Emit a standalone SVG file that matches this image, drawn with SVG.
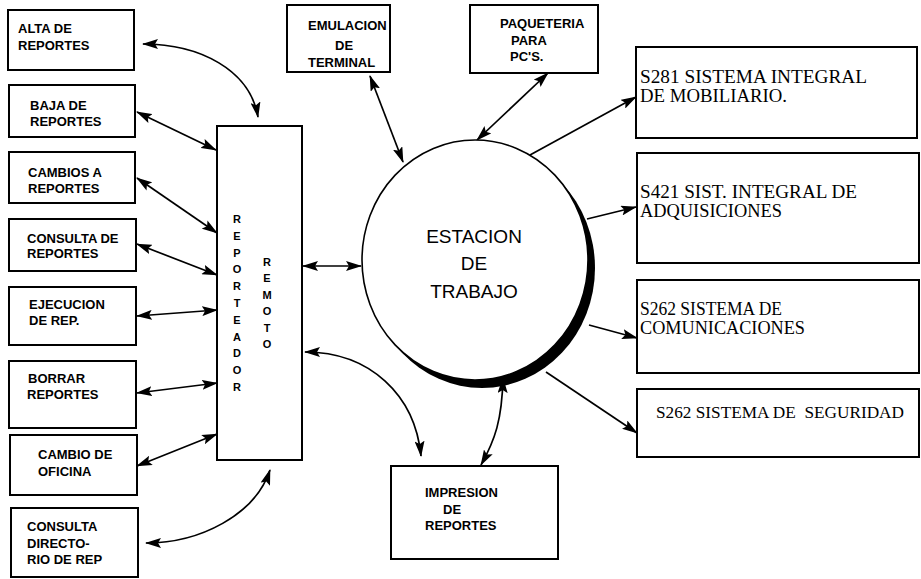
<svg xmlns="http://www.w3.org/2000/svg" width="921" height="579" viewBox="0 0 921 579">
<style>
.box{fill:#fff;stroke:#000;stroke-width:2}
.lbl{font-family:"Liberation Sans",Arial,sans-serif;font-weight:bold;font-size:13px;fill:#000}
.vl{font-family:"Liberation Sans",Arial,sans-serif;font-weight:bold;font-size:11px;fill:#000;text-anchor:middle}
.srf{font-family:"Liberation Serif","Times New Roman",serif;font-size:19px;fill:#000}
.big{font-family:"Liberation Sans",Arial,sans-serif;font-size:19px;fill:#000;text-anchor:middle}
.c2{fill:none;stroke:#000;stroke-width:1.7;marker-start:url(#ah);marker-end:url(#ah)}
.c1{fill:none;stroke:#000;stroke-width:1.7;marker-end:url(#ah)}
</style>
<defs>
<marker id="ah" viewBox="0 0 16 10" refX="15" refY="5" markerWidth="16" markerHeight="10" markerUnits="userSpaceOnUse" orient="auto-start-reverse">
<path d="M0,0 L16,5 L0,10 L3,5 z" fill="#000"/>
</marker>
</defs>
<rect width="921" height="579" fill="#fff"/>

<g id="connectors">
<path class="c2" d="M143,44 C200,44 250,70 258,117"/>
<path class="c2" d="M137,112 L216,150"/>
<path class="c2" d="M137,178 L217,233"/>
<path class="c2" d="M137,244 L217,275"/>
<path class="c2" d="M137,316 L217,310"/>
<path class="c2" d="M137,393 L217,383"/>
<path class="c2" d="M137,466 L217,434"/>
<path class="c2" d="M146,543 C200,543 255,515 270,470"/>
<path class="c2" d="M303,266 L361,266"/>
<path class="c2" d="M305,352 C370,352 415,395 421,456"/>
<path class="c2" d="M503,378 C502,420 495,440 481,465"/>
<path class="c2" d="M370,76 L403,162"/>
<path class="c2" d="M548,73 L477,140"/>
<path class="c1" d="M530,155 L636,97"/>
<path class="c1" d="M587,219 L636,207"/>
<path class="c1" d="M589,325 L637,338"/>
<path class="c1" d="M546,372 L637,433"/>
</g>

<g id="estacion">
<ellipse cx="482" cy="268" rx="113" ry="120" fill="#000"/>
<ellipse cx="475" cy="260" rx="113" ry="120" fill="#fff" stroke="#000" stroke-width="1.6"/>
<text class="big" x="474" y="243">ESTACION</text>
<text class="big" x="474" y="270">DE</text>
<text class="big" x="474" y="298">TRABAJO</text>
</g>

<g id="reporteador">
<rect class="box" x="217" y="126" width="85" height="334"/>
<text class="vl" x="237" y="223">R</text>
<text class="vl" x="237" y="240">E</text>
<text class="vl" x="237" y="257">P</text>
<text class="vl" x="237" y="273">O</text>
<text class="vl" x="237" y="290">R</text>
<text class="vl" x="237" y="307">T</text>
<text class="vl" x="237" y="324">E</text>
<text class="vl" x="237" y="341">A</text>
<text class="vl" x="237" y="357">D</text>
<text class="vl" x="237" y="374">O</text>
<text class="vl" x="237" y="391">R</text>
<text class="vl" x="267" y="266">R</text>
<text class="vl" x="267" y="282">E</text>
<text class="vl" x="267" y="299">M</text>
<text class="vl" x="267" y="315">O</text>
<text class="vl" x="267" y="332">T</text>
<text class="vl" x="267" y="348">O</text>
</g>

<g id="alta">
<rect class="box" x="8" y="10" width="126" height="60"/>
<text class="lbl" x="18" y="33">ALTA DE</text>
<text class="lbl" x="18" y="50">REPORTES</text>
</g>
<g id="baja">
<rect class="box" x="9" y="85" width="126" height="52"/>
<text class="lbl" x="30" y="110">BAJA DE</text>
<text class="lbl" x="30" y="126">REPORTES</text>
</g>
<g id="cambios">
<rect class="box" x="9" y="152" width="126" height="51"/>
<text class="lbl" x="28" y="177">CAMBIOS A</text>
<text class="lbl" x="28" y="193">REPORTES</text>
</g>
<g id="consulta">
<rect class="box" x="9" y="219" width="127" height="52"/>
<text class="lbl" x="27" y="243">CONSULTA DE</text>
<text class="lbl" x="27" y="258">REPORTES</text>
</g>
<g id="ejecucion">
<rect class="box" x="9" y="287" width="127" height="58"/>
<text class="lbl" x="29" y="309">EJECUCION</text>
<text class="lbl" x="29" y="325">DE REP.</text>
</g>
<g id="borrar">
<rect class="box" x="9" y="361" width="127" height="67"/>
<text class="lbl" x="28" y="383">BORRAR</text>
<text class="lbl" x="27" y="399">REPORTES</text>
</g>
<g id="cambio-oficina">
<rect class="box" x="10" y="435" width="127" height="60"/>
<text class="lbl" x="38" y="459">CAMBIO DE</text>
<text class="lbl" x="38" y="476">OFICINA</text>
</g>
<g id="consulta-dir">
<rect class="box" x="11" y="508" width="127" height="69"/>
<text class="lbl" x="27" y="531">CONSULTA</text>
<text class="lbl" x="27" y="548">DIRECTO-</text>
<text class="lbl" x="27" y="564">RIO DE REP</text>
</g>

<g id="emulacion">
<rect class="box" x="287" y="5" width="103" height="67"/>
<text class="lbl" x="308" y="30">EMULACION</text>
<text class="lbl" x="335" y="50">DE</text>
<text class="lbl" x="308" y="67">TERMINAL</text>
</g>
<g id="paqueteria">
<rect class="box" x="470" y="5" width="128" height="68"/>
<text class="lbl" x="500" y="28">PAQUETERIA</text>
<text class="lbl" x="511" y="45">PARA</text>
<text class="lbl" x="510" y="61">PC'S.</text>
</g>

<g id="impresion">
<rect class="box" x="391" y="466" width="167" height="93"/>
<text class="lbl" x="425" y="497">IMPRESION</text>
<text class="lbl" x="443" y="514">DE</text>
<text class="lbl" x="425" y="530">REPORTES</text>
</g>

<g id="s281">
<rect class="box" x="636" y="47" width="281" height="91"/>
<text class="srf" x="640" y="83" textLength="227" lengthAdjust="spacingAndGlyphs">S281 SISTEMA INTEGRAL</text>
<text class="srf" x="640" y="102" textLength="147" lengthAdjust="spacingAndGlyphs">DE MOBILIARIO.</text>
</g>
<g id="s421">
<rect class="box" x="637" y="153" width="282" height="110"/>
<text class="srf" x="640" y="198" textLength="217" lengthAdjust="spacingAndGlyphs">S421 SIST. INTEGRAL DE</text>
<text class="srf" x="640" y="217" textLength="142" lengthAdjust="spacingAndGlyphs">ADQUISICIONES</text>
</g>
<g id="s262-com">
<rect class="box" x="637" y="280" width="282" height="93"/>
<text class="srf" x="640" y="315" textLength="142" lengthAdjust="spacingAndGlyphs">S262 SISTEMA DE</text>
<text class="srf" x="640" y="334" textLength="165" lengthAdjust="spacingAndGlyphs">COMUNICACIONES</text>
</g>
<g id="s262-seg">
<rect class="box" x="637" y="389" width="282" height="68"/>
<text class="srf" x="656" y="418" style="font-size:17.5px" textLength="248" lengthAdjust="spacingAndGlyphs" xml:space="preserve">S262 SISTEMA DE  SEGURIDAD</text>
</g>
</svg>
